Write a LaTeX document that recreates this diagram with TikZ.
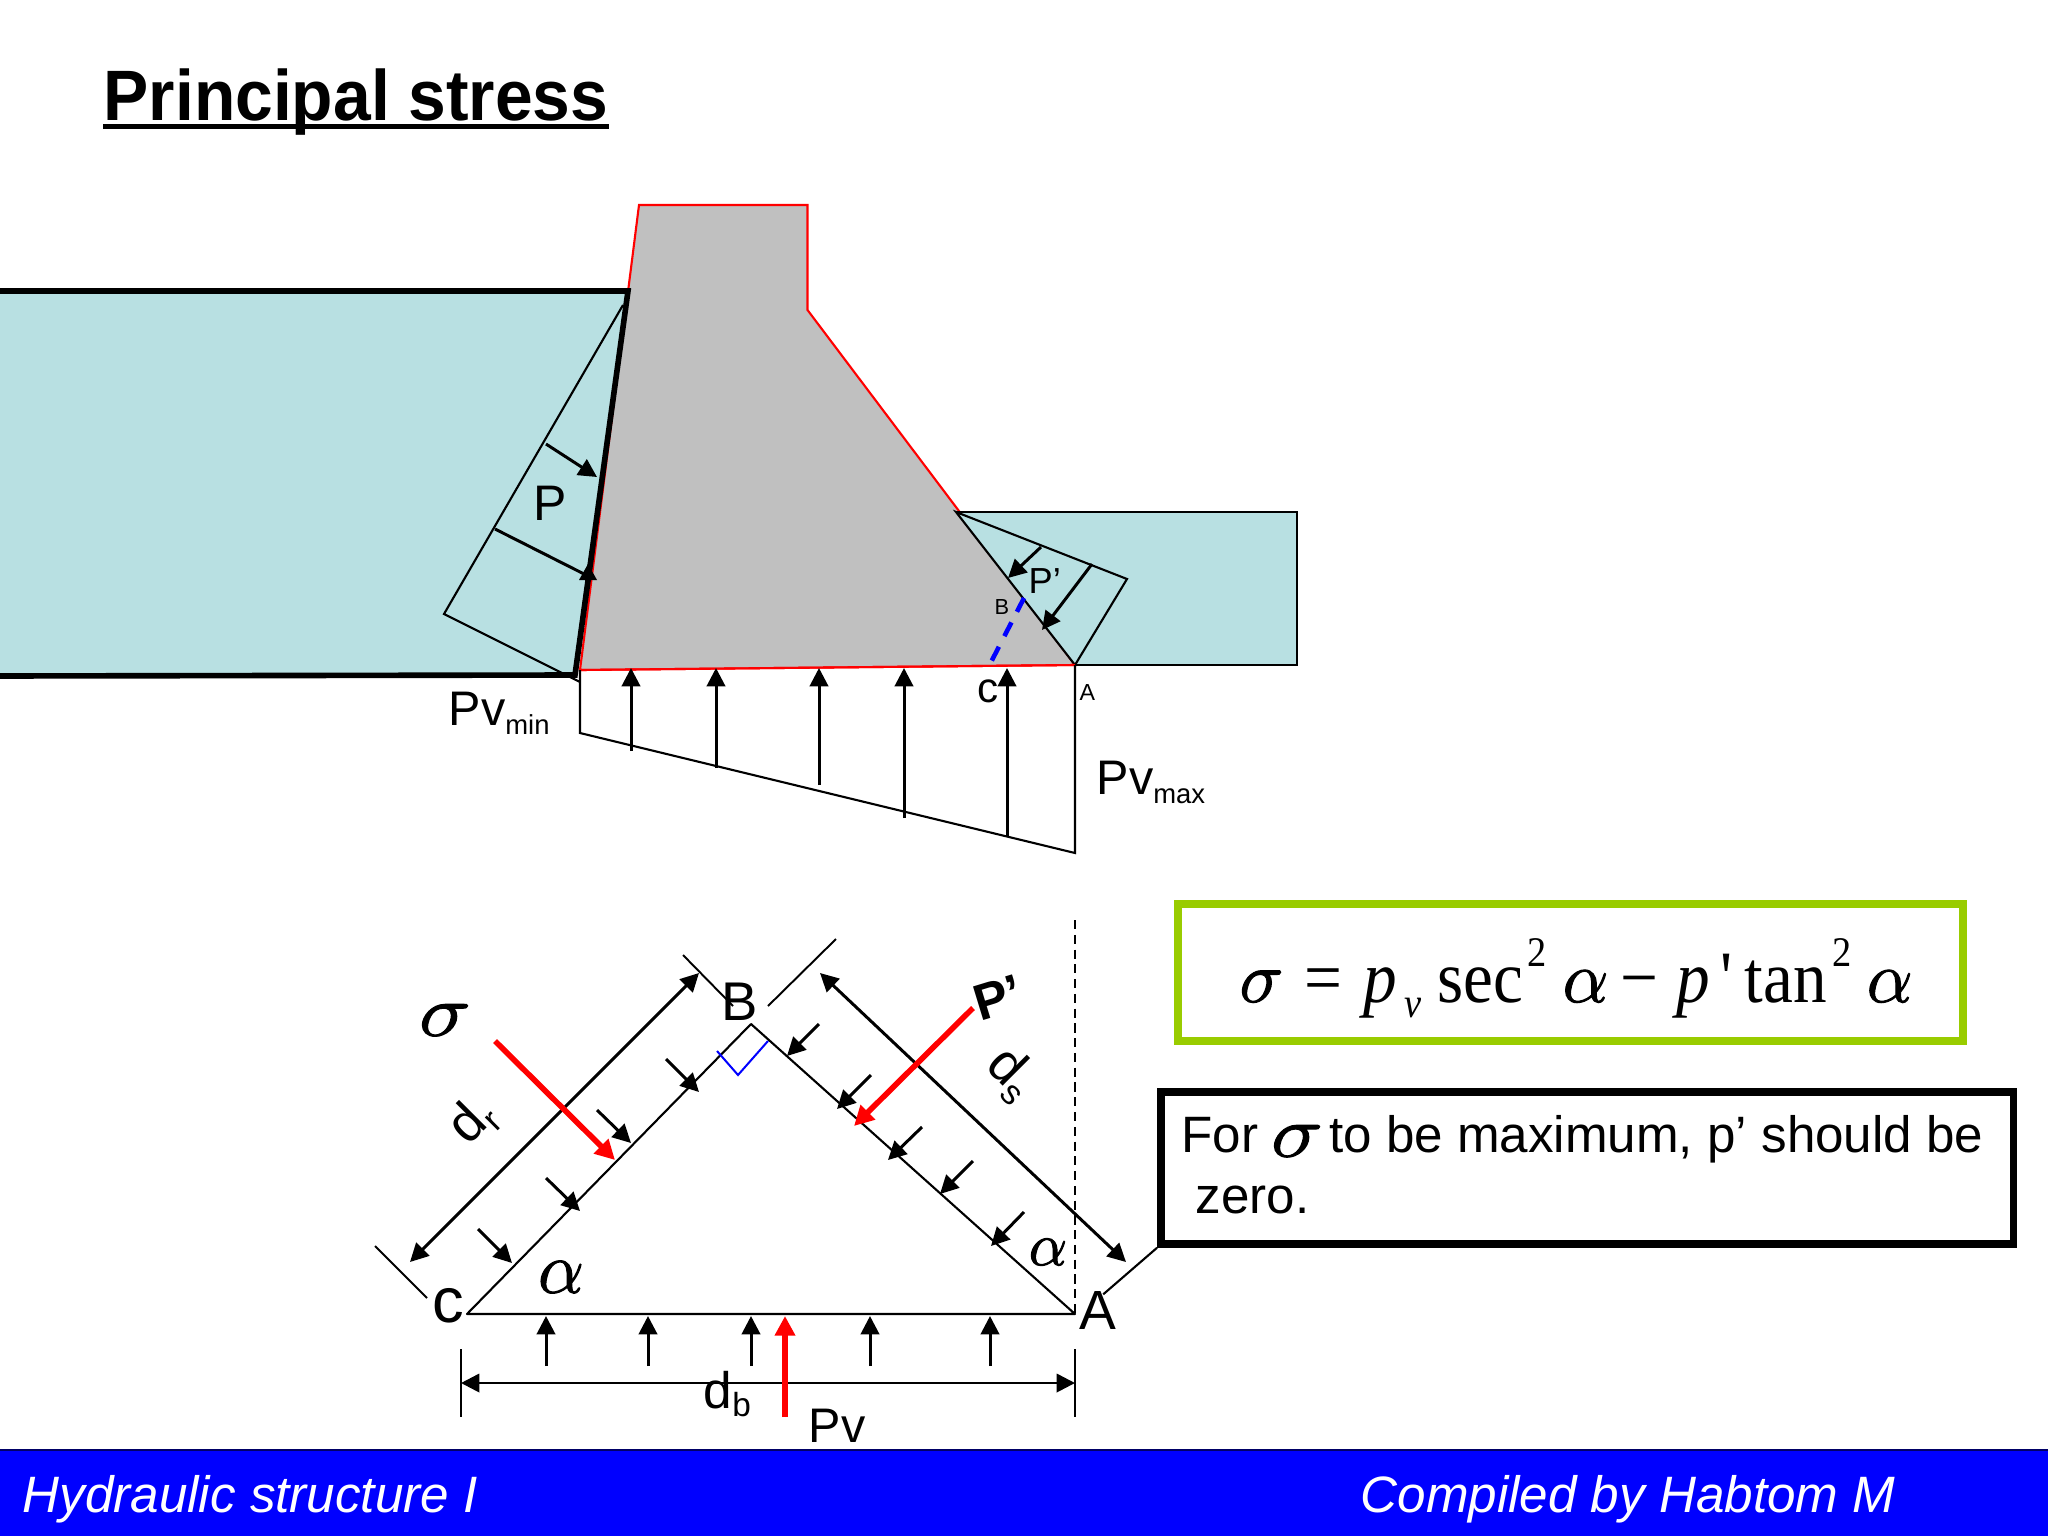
\documentclass[tikz,border=0pt]{standalone}
\usepackage{fontspec}
\usetikzlibrary{arrows.meta}
\setmainfont{Liberation Sans}
\newfontfamily\eqf[FakeStretch=0.91]{Liberation Serif}
\newdimen\mypx \mypx=0.2845pt
\newcommand{\fsz}[1]{\fontsize{#1}{#1}\selectfont}
\newcommand{\eqat}[2]{\makebox[0pt][l]{\hspace{#1\mypx}#2}}
\newcommand{\bsym}[3]{\scalebox{#3}[1]{\fsz{#1}\special{pdf:code q 2 Tr 0.3 w}$#2$\special{pdf:code Q}}}
\definecolor{water}{RGB}{184,224,226}
\definecolor{damgrey}{RGB}{192,192,192}
\definecolor{boxgreen}{RGB}{153,204,0}
\definecolor{barblue}{RGB}{0,0,255}
\tikzset{
  x=0.01cm,y=-0.01cm,
  lbl/.style={inner sep=0pt,anchor=base west},
  thinl/.style={draw=black,line width=0.6pt},
  bigtip/.tip={Triangle[length=5.2pt,width=5.2pt]},
  redtip/.tip={Triangle[length=5.6pt,width=5.6pt]},
  force/.style={draw=black,line width=0.85pt,-{bigtip}},
  redforce/.style={draw=red,fill=red,line width=1.6pt,-{redtip[red]}},
  dimen/.style={draw=black,line width=0.85pt,{bigtip}-{bigtip}},
  tick/.style={draw=black,line width=0.55pt},
}
\begin{document}
\begin{tikzpicture}
\useasboundingbox (0,0) rectangle (2048,1536);
% title
\node[lbl] (title) at (103,120) {\fsz{20.3}\bfseries\scalebox{0.949}[1]{Principal stress}};
\draw[line width=1.4pt] ([yshift=-1.75pt]title.base west) -- ([yshift=-1.75pt]title.base east);
% key points
\coordinate (DTL) at (639,205); \coordinate (DTR) at (807.5,205); \coordinate (DS) at (807.5,310);
\coordinate (DA) at (1075,665); \coordinate (DBL) at (580,670);
% dam
\fill[damgrey] (DTL) -- (DTR) -- (DS) -- (DA) -- (DBL) -- cycle;
\draw[draw=red,line width=0.6pt] (DTL) -- (DTR) -- (DS) -- (DA) -- (DBL) -- cycle;
% upstream water
\coordinate (UTR) at (628,291); \coordinate (UBR) at (575,675);
\fill[water] (-10,291) -- (UTR) -- (UBR) -- (-10,676) -- cycle;
\coordinate (UA) at (623,305); \coordinate (UL) at (444,614); \coordinate (UB) at (580,682);
\draw[thinl] (UA) -- (UL) -- (UB);
\draw[black,line width=1.6pt] (-10,291) -- (UTR) -- (UBR) -- (-10,676);
\draw[force] (546,444) -- (597,477);
\draw[draw=black,line width=0.85pt] (495,529) -- (590,577);
\fill[black] (588,564) -- (597,580) -- (579,580) -- cycle;
\node[lbl] (labP) at (533,520) {\fsz{14.2}P};
\node[lbl] (labPvmin) at (448,725) {\fsz{13.8}Pv\raisebox{-2.8pt}{\fsz{7.8}min}};
% downstream water
\fill[water] (956,512) -- (1297,512) -- (1297,665) -- (DA) -- cycle;
\draw[thinl] (956,512) -- (1297,512) -- (1297,665) -- (DA);
\coordinate (DP) at (1127,579);
\draw[thinl] (956,512) -- (DA) -- (DP) -- cycle;
\draw[force] (1041,547) -- (1008,578);
\draw[force] (1092,564) -- (1042,630);
\node[lbl] (labPp) at (1028,593) {\fsz{10.3}P’};
\node[lbl] (labBs) at (994,614) {\fsz{6.2}B};
\draw[blue,line width=1.3pt,dash pattern=on 4.4pt off 3.4pt] (1024,598) -- (989,666);
\node[lbl] (labcs) at (977,702) {\fsz{12}c};
\node[lbl] (labAs) at (1079,700) {\fsz{6.6}A};
% uplift
\draw[draw=red,line width=0.6pt] (DBL) -- (DA);
\draw[thinl] (DBL) -- (580,733) -- (1075,853) -- (DA);
\foreach \xx/\yy in {631/751,716/768,819/785,904/818,1007/837}{
  \draw[force] (\xx,\yy) -- (\xx,668);
}
\node[lbl] (labPvmax) at (1096,794) {\fsz{13.8}Pv\raisebox{-2.8pt}{\fsz{7.8}max}};
% lower triangle
\coordinate (TC) at (467,1314); \coordinate (TB) at (751,1024); \coordinate (TA) at (1075,1314);
\draw[thinl,line join=round] (TC) -- (TB) -- (TA) -- cycle;
\draw[blue,line width=0.57pt] (717,1051) -- (738,1075) -- (768,1041);
\draw[dashed,line width=0.57pt,dash pattern=on 2.6pt off 1.6pt] (1075,920) -- (TA);
\foreach \a/\b/\c/\d in {478/1229/512/1263,546/1178/580/1211,597/1110/631/1143,666/1059/699/1092,
  819/1024/787/1056,871/1075/837/1109,922/1127/888/1160,973/1161/940/1194,1024/1212/991/1246}{
  \draw[force] (\a,\b) -- (\c,\d);
}
\foreach \xx in {546,648,751,870,990}{ \draw[force] (\xx,1366) -- (\xx,1316); }
\draw[dimen] (410,1262) -- (699,973);
\draw[dimen] (820,973) -- (1126,1262);
\draw[tick] (375,1246) -- (427,1298);
\draw[tick] (683,955) -- (733,1006);
\draw[tick] (836,939) -- (768,1006);
\draw[tick] (461,1349) -- (461,1417);
\draw[tick] (1075,1349) -- (1075,1417);
\draw[draw=black,line width=0.75pt,{bigtip}-{bigtip}] (461,1383) -- (1075,1383);
\draw[redforce] (495,1041) -- (615,1160);
\draw[redforce] (973,1008) -- (854,1126);
\draw[redforce] (785,1417) -- (785,1316);
\node[inner sep=0pt] (labsig) at (445,1020) {\bsym{20.5}{\sigma}{1.2}};
\node[inner sep=0pt,rotate=45] (labdr) at (473,1122) {\fsz{15.3}d\raisebox{-2.8pt}{\fsz{9.8}r}};
\node[inner sep=0pt,rotate=-45] (labds) at (1011,1074) {\fsz{15.3}d\raisebox{-2.8pt}{\fsz{9.8}s}};
\node[inner sep=0pt,rotate=17] (labPb) at (998,998) {\fsz{14.5}\bfseries P’};
\node[inner sep=0pt] (labal) at (561,1277) {\bsym{21.5}{\alpha}{1}};
\node[inner sep=0pt] (labar) at (1048,1252) {\bsym{17}{\alpha}{1}};
\node[lbl] (labC) at (432,1322) {\fsz{18}c};
\node[lbl] (labB) at (721,1020) {\fsz{15.5}B};
\node[lbl] (labA) at (1079,1329) {\fsz{15.7}A};
\node[lbl] (labdb) at (703,1408) {\fsz{14.6}d\raisebox{-2.5pt}{\fsz{9.5}b}};
\node[lbl] (labPv) at (808,1442) {\fsz{13.8}Pv};
% boxes
\node[draw=boxgreen,line width=2.28pt,fill=white,minimum width=7.85cm,minimum height=1.37cm,inner sep=0pt] (eqbox) at (1570.5,972.5) {};
\node[lbl] (eqtext) at (1240,1002) {\eqf\fsz{21}%
  \eqat{-3}{\bsym{21}{\sigma}{1.02}}\eqat{62}{=}\eqat{121}{\itshape p}\eqat{162}{\raisebox{-4.5pt}{\fsz{12}\itshape v}}%
  \eqat{195}{sec}\eqat{285}{\raisebox{10pt}{\fsz{12}2}}\eqat{320}{\bsym{21}{\alpha}{1}}\eqat{378}{−}%
  \eqat{434}{\itshape p}\eqat{478}{'}\eqat{502}{tan}\eqat{590}{\raisebox{10pt}{\fsz{12}2}}\eqat{624}{\bsym{21}{\alpha}{1}}};
\node[draw=black,line width=2.13pt,fill=white,minimum width=8.52cm,minimum height=1.52cm,inner sep=0pt] (notebox) at (1587,1168) {};
\node[lbl] (notea) at (1181,1152) {\fsz{14.55}For\hspace{3.6pt}\raisebox{-1.3pt}{\bsym{21}{\sigma}{1.2}}\hspace{1.8pt}to be maximum, p’ should be};
\node[lbl] (noteb) at (1195,1213) {\fsz{14.55}zero.};
\draw[thinl] (labA.north east) ++(-14,4) -- (notebox.south west);
% footer
\fill[barblue] (0,1450) rectangle (2048,1536);
\draw[black!60!blue,line width=0.5pt] (0,1450) -- (2048,1450);
\node[lbl,text=white] (footl) at (22,1512) {\fsz{14.55}\itshape Hydraulic structure I};
\node[lbl,text=white] (footr) at (1360,1512) {\fsz{14.55}\itshape Compiled by Habtom M};
\end{tikzpicture}
\end{document}
